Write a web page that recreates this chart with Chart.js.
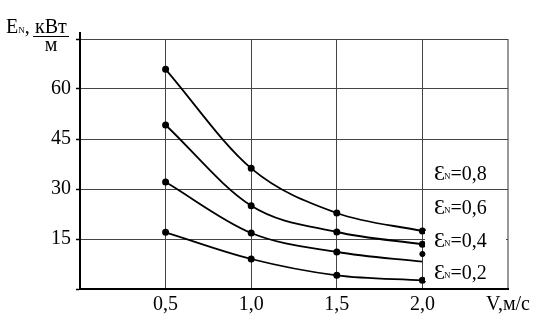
<!DOCTYPE html>
<html>
<head>
<meta charset="utf-8">
<script src="https://cdn.jsdelivr.net/npm/chart.js@4"></script>
<style>
  html, body { margin: 0; padding: 0; background: #fff; }
  #wrap { width: 548px; height: 332px; position: relative; }
  .warm { font-family: "Liberation Serif"; position: absolute; left: -999px; }
</style>
</head>
<body>
<span class="warm">Ɛ кВт 0,5</span>
<div id="wrap"><canvas id="chart" width="548" height="332"></canvas></div>
<script>
const speeds = [0.5, 1.0, 1.5, 2.0];
const eps08 = [65.9, 36.2, 22.8, 17.4];
const eps06 = [49.2, 25.0, 17.1, 13.4];
const eps04 = [32.1, 16.8, 11.1, 8.2];
const eps02 = [17.0, 9.0, 4.1, 2.6];
const strayPoint = [{ x: 2.0, y: 10.5 }];

const curveLabels = ["0,8", "0,6", "0,4", "0,2"];
const labelRows = [173, 207, 240, 272];
const xTickLabels = { 0.5: "0,5", 1: "1,0", 1.5: "1,5", 2: "2,0", 2.5: "V,м/с" };
const yTickShown = [15, 30, 45, 60];

const serif = "Liberation Serif";

function toPoints(values) {
  return values.map((v, i) => ({ x: speeds[i], y: v }));
}

function curve(values, radii) {
  return {
    data: toPoints(values),
    borderColor: "#000",
    backgroundColor: "#000",
    borderWidth: 1.8,
    pointRadius: radii || 2.6,
    pointHoverRadius: 0,
    cubicInterpolationMode: "monotone",
    fill: false,
  };
}

const extras = {
  id: "extras",
  afterDraw(chart) {
    const ctx = chart.ctx;
    const area = chart.chartArea;
    ctx.save();

    // axis stub above the top grid line
    ctx.strokeStyle = "#000";
    ctx.lineWidth = 2;
    ctx.beginPath();
    ctx.moveTo(area.left, area.top - 7);
    ctx.lineTo(area.left, area.top);
    ctx.stroke();

    // curve labels
    ctx.textBaseline = "alphabetic";
    labelRows.forEach((y, i) => {
      ctx.fillStyle = "#fff";
      ctx.fillRect(425, y - 9, 81, 18);
      ctx.fillStyle = "#000";
      ctx.textAlign = "left";
      ctx.font = "22px '" + serif + "'";
      ctx.fillText("Ɛ", 434, y + 7);
      const w = ctx.measureText("Ɛ").width;
      ctx.font = "9px '" + serif + "'";
      ctx.fillText("N", 434 + w - 1, y + 6);
      const wn = ctx.measureText("N").width;
      ctx.font = "20px '" + serif + "'";
      ctx.fillText("=" + curveLabels[i], 434 + w + wn - 1, y + 7);
    });

    // y axis title
    ctx.font = "20px '" + serif + "'";
    ctx.fillText("E", 6, 33);
    let x = 6 + ctx.measureText("E").width;
    ctx.font = "9px '" + serif + "'";
    ctx.fillText("N", x, 33);
    x += ctx.measureText("N").width;
    ctx.font = "20px '" + serif + "'";
    ctx.fillText(",", x, 33);
    ctx.fillText("кВт", 35, 33);
    ctx.lineWidth = 1;
    ctx.beginPath();
    ctx.moveTo(33, 36.5);
    ctx.lineTo(69, 36.5);
    ctx.stroke();
    ctx.textAlign = "center";
    ctx.fillText("м", 51, 51);

    ctx.restore();
  },
};

function build() {
  new Chart(document.getElementById("chart"), {
    type: "line",
    data: {
      datasets: [
        curve(eps08),
        curve(eps06),
        curve(eps04, [2.6, 2.6, 2.6, 0]),
        curve(eps02),
        {
          data: strayPoint,
          showLine: false,
          borderColor: "#000",
          backgroundColor: "#000",
          pointRadius: 2.6,
          pointHoverRadius: 0,
        },
      ],
    },
    options: {
      responsive: false,
      animation: false,
      events: [],
      layout: { padding: { top: 39, right: 40, left: 0, bottom: 0 } },
      plugins: { legend: { display: false }, tooltip: { enabled: false } },
      scales: {
        x: {
          type: "linear",
          min: 0,
          max: 2.5,
          afterFit(scale) { scale.height = 43; },
          afterBuildTicks(scale) {
            scale.ticks = [0, 0.5, 1, 1.5, 2, 2.5].map((v) => ({ value: v }));
          },
          ticks: {
            color: "#000",
            font: { family: serif, size: 20 },
            padding: 4,
            maxRotation: 0,
            autoSkip: false,
            callback: (v) => xTickLabels[v] || "",
          },
          grid: {
            color: (c) => (c.tick && c.tick.value === 2.5 ? "#999" : "#444"),
            lineWidth: (c) => (c.tick && c.tick.value === 2.5 ? 2 : 1),
            drawTicks: false,
          },
          border: { color: "#000", width: 2 },
        },
        y: {
          min: 0,
          max: 75,
          afterFit(scale) { scale.width = 80; },
          ticks: {
            stepSize: 15,
            color: "#000",
            font: { family: serif, size: 20 },
            padding: 5,
            callback: (v) => (yTickShown.includes(v) ? String(v) : ""),
          },
          grid: {
            color: "#444",
            lineWidth: 1,
            tickLength: 4,
            tickColor: "#000",
            tickWidth: 1.5,
          },
          border: { color: "#000", width: 2 },
        },
      },
    },
    plugins: [extras],
  });
}

document.fonts.load("20px 'Liberation Serif'", "Ɛ кВт 0,5").then(build, build);
</script>
</body>
</html>
